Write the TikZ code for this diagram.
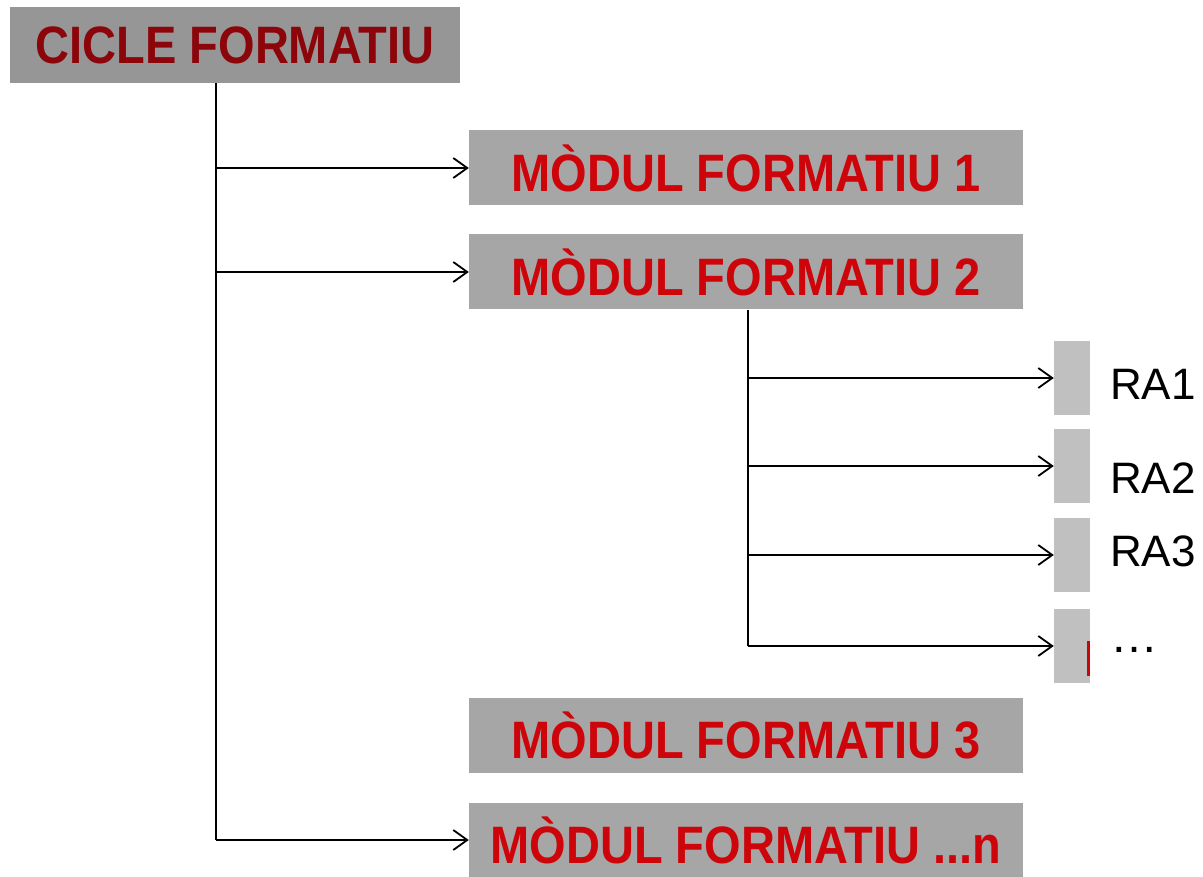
\documentclass[tikz,border=0pt]{standalone}
\usepackage{fontspec}
\setmainfont{Liberation Sans}
\usepackage{tikz}
\usetikzlibrary{arrows.meta}

\definecolor{cicleGray}{RGB}{150,150,150}
\definecolor{cicleRed}{RGB}{140,5,10}
\definecolor{modulGray}{RGB}{166,166,166}
\definecolor{modulRed}{RGB}{205,5,10}
\definecolor{raGray}{RGB}{192,192,192}
\newcommand{\talltext}[1]{\scalebox{1}[1.12]{#1}}

\begin{document}
\begin{tikzpicture}[x=1pt,y=-1pt,
  cicle/.style={fill=cicleGray, text=cicleRed, inner sep=0pt,
    minimum width=450pt, minimum height=76pt,
    font=\fontsize{47}{50}\selectfont\bfseries},
  modul/.style={fill=modulGray, text=modulRed, inner sep=0pt,
    minimum width=554pt, minimum height=75pt,
    font=\fontsize{47}{50}\selectfont\bfseries},
  rabox/.style={fill=raGray, inner sep=0pt, minimum width=36pt, minimum height=74pt},
  ralabel/.style={anchor=west, inner sep=0pt, font=\fontsize{44}{48}\selectfont},
  link/.style={line width=1.8pt, -{Straight Barb[length=14pt,width=20pt,line width=1.8pt]}},
  trunk/.style={line width=1.8pt}]
\useasboundingbox (0,0) rectangle (1203,877);
% \draw (0,0) grid (1203,877);
\coordinate (t) at (216,0);
\coordinate (s) at (748,0);

\node[cicle] (cicle) at (235,45) {\talltext{CICLE FORMATIU}};
\node[modul] (mf1) at (746,168) {\talltext{MÒDUL FORMATIU 1}};
\node[modul] (mf2) at (746,272) {\talltext{MÒDUL FORMATIU 2}};
\node[modul] (mf3) at (746,735.5) {\talltext{MÒDUL FORMATIU 3}};
\node[modul] (mfn) at (746,840) {\talltext{MÒDUL FORMATIU ...n}};

\node[rabox] (ra1box) at (1072,378) {};
\node[rabox] (ra2box) at (1072,466) {};
\node[rabox] (ra3box) at (1072,555) {};
\node[rabox] (ra4box) at (1072,646) {};
\fill[modulRed] (1087,641) rectangle (1090,676);
\node[ralabel] (ra1) at (1110,384) {RA1};
\node[ralabel] (ra2) at (1110,478) {RA2};
\node[ralabel] (ra3) at (1110,551) {RA3};
\node[ralabel] (ra4) at (1110,650) {\fontsize{48}{50}\selectfont …};

\draw[trunk] (cicle.south -| t) -- (t |- mfn.west);
\draw[link] (t |- mf1.west) -- (mf1.west);
\draw[link] (t |- mf2.west) -- (mf2.west);
\draw[link] (t |- mfn.west) -- (mfn.west);

\draw[trunk] (mf2.south -| s) -- (s |- ra4box.west);
\draw[link] (s |- ra1box.west) -- (ra1box.west);
\draw[link] (s |- ra2box.west) -- (ra2box.west);
\draw[link] (s |- ra3box.west) -- (ra3box.west);
\draw[link] (s |- ra4box.west) -- (ra4box.west);
\end{tikzpicture}
\end{document}
